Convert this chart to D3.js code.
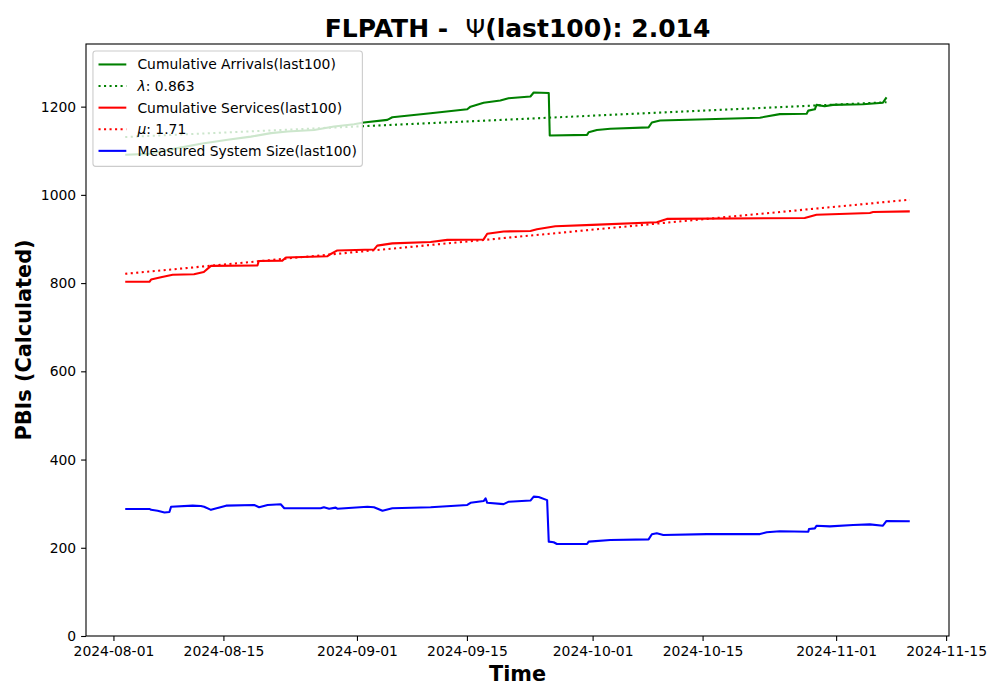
<!DOCTYPE html>
<html>
<head>
<meta charset="utf-8">
<script src="https://cdn.jsdelivr.net/npm/d3@7"></script>
<style>
  body { margin: 0; background: #fff; }
  text { font-family: "DejaVu Sans", sans-serif; }
</style>
</head>
<body>
<svg id="chart"></svg>
<script>
// cumulative arrivals (last 100)
const arrivals = [
    ["2024-08-02T12", 1091], ["2024-08-05T14", 1093], ["2024-08-09T04", 1106], ["2024-08-12T03", 1116],
    ["2024-08-15T13", 1125], ["2024-08-18T12", 1132], ["2024-08-21T01", 1140], ["2024-08-23T04", 1143.5],
    ["2024-08-26T13", 1147], ["2024-08-29T02", 1155], ["2024-08-31T15", 1160], ["2024-09-01T21", 1164],
    ["2024-09-04T21", 1170], ["2024-09-05T12", 1176], ["2024-09-10T09", 1185], ["2024-09-15T01", 1194],
    ["2024-09-15T11", 1200], ["2024-09-17T03", 1209], ["2024-09-19T06", 1214], ["2024-09-20T07", 1219],
    ["2024-09-23T02", 1223], ["2024-09-23T12", 1232], ["2024-09-25T10", 1231], ["2024-09-25T13", 1134.5],
    ["2024-09-30T07", 1136], ["2024-09-30T12", 1142], ["2024-10-01T13", 1147], ["2024-10-03T06", 1150],
    ["2024-10-08T03", 1153], ["2024-10-08T13", 1164], ["2024-10-09T14", 1168.5], ["2024-10-15T13", 1171.5],
    ["2024-10-22T07", 1175], ["2024-10-24T20", 1183], ["2024-10-28T06", 1184], ["2024-10-28T11", 1191],
    ["2024-10-29T07", 1194], ["2024-10-29T12", 1204], ["2024-10-30T13", 1201], ["2024-10-31T14", 1204],
    ["2024-11-04T10", 1205.6], ["2024-11-06T23", 1209], ["2024-11-07T10", 1221]
];

// cumulative services (last 100)
const services = [
    ["2024-08-02T12", 803], ["2024-08-05T14", 803], ["2024-08-05T19", 808], ["2024-08-07T01", 813],
    ["2024-08-08T13", 819], ["2024-08-11T06", 820], ["2024-08-12T12", 825], ["2024-08-13T10", 839],
    ["2024-08-19T08", 840], ["2024-08-19T12", 850], ["2024-08-22T12", 851], ["2024-08-22T23", 858],
    ["2024-08-28T06", 861], ["2024-08-28T16", 866], ["2024-08-29T12", 874], ["2024-09-03T04", 876],
    ["2024-09-03T14", 885], ["2024-09-05T12", 890], ["2024-09-10T09", 893], ["2024-09-12T12", 898],
    ["2024-09-17T03", 899], ["2024-09-17T14", 912], ["2024-09-19T16", 917], ["2024-09-23T02", 918],
    ["2024-09-23T22", 922], ["2024-09-26T06", 929], ["2024-09-30T23", 932], ["2024-10-09T04", 938],
    ["2024-10-10T11", 945.5], ["2024-10-28T00", 947.5], ["2024-10-29T12", 955], ["2024-11-05T07", 959],
    ["2024-11-05T17", 961], ["2024-11-10T09", 962.5]
];

// measured system size (last 100)
const systemSize = [
    ["2024-08-02T12", 288], ["2024-08-05T14", 288], ["2024-08-05T19", 286], ["2024-08-06T15", 284],
    ["2024-08-07T12", 280], ["2024-08-08T03", 281], ["2024-08-08T08", 293], ["2024-08-11T02", 295.5],
    ["2024-08-12T03", 294.8], ["2024-08-12T13", 293], ["2024-08-13T10", 286], ["2024-08-15T08", 295.5],
    ["2024-08-18T22", 297], ["2024-08-19T13", 292], ["2024-08-20T15", 297], ["2024-08-22T07", 298.6],
    ["2024-08-22T18", 289.5], ["2024-08-27T09", 289.5], ["2024-08-27T19", 292], ["2024-08-28T11", 288.5],
    ["2024-08-29T07", 291], ["2024-08-29T12", 288.5], ["2024-09-02T08", 293], ["2024-09-03T04", 292],
    ["2024-09-04T06", 284], ["2024-09-05T12", 289.5], ["2024-09-10T09", 292], ["2024-09-15T01", 297],
    ["2024-09-15T11", 302], ["2024-09-17T03", 306], ["2024-09-17T09", 312], ["2024-09-17T14", 302],
    ["2024-09-19T16", 299], ["2024-09-20T08", 304.5], ["2024-09-23T02", 307], ["2024-09-23T12", 316],
    ["2024-09-24T03", 315], ["2024-09-25T05", 308], ["2024-09-25T10", 214], ["2024-09-26T01", 212.5],
    ["2024-09-26T11", 208.6], ["2024-09-30T07", 208.6], ["2024-09-30T12", 214], ["2024-10-03T06", 217.7],
    ["2024-10-08T03", 219], ["2024-10-08T13", 230.6], ["2024-10-09T04", 233], ["2024-10-10T00", 229],
    ["2024-10-15T13", 231], ["2024-10-22T07", 231], ["2024-10-23T04", 235], ["2024-10-24T20", 237.4],
    ["2024-10-28T11", 236.5], ["2024-10-28T13", 242.6], ["2024-10-29T07", 244], ["2024-10-29T12", 250],
    ["2024-10-31T05", 248.5], ["2024-11-03T04", 251.7], ["2024-11-05T07", 253], ["2024-11-06T23", 250],
    ["2024-11-07T10", 260.8], ["2024-11-10T09", 260]
];

// fitted rate lines (start / end)
const lambdaFit = [["2024-08-02T12", 1131], ["2024-11-07T10", 1210]];
const muFit = [["2024-08-02T12", 821], ["2024-11-10T09", 989]];

const yTicks = [0, 200, 400, 600, 800, 1000, 1200];
const xTicks = ["2024-08-01", "2024-08-15", "2024-09-01", "2024-09-15", "2024-10-01", "2024-10-15", "2024-11-01", "2024-11-15"];

const width = 1000, height = 700;
const margin = { top: 44, right: 51, bottom: 64, left: 86 };

const parseTime = d3.utcParse("%Y-%m-%dT%H");
const parseDay = d3.utcParse("%Y-%m-%d");
const toPoints = arr => arr.map(d => ({ t: parseTime(d[0]), v: d[1] }));

const series = [
    { label: "Cumulative Arrivals(last100)", pts: toPoints(arrivals), color: "green", dotted: false },
    { label: "λ: 0.863", sym: "λ", rest: ": 0.863", pts: toPoints(lambdaFit), color: "green", dotted: true },
    { label: "Cumulative Services(last100)", pts: toPoints(services), color: "red", dotted: false },
    { label: "μ: 1.71", sym: "μ", rest: ": 1.71", pts: toPoints(muFit), color: "red", dotted: true },
    { label: "Measured System Size(last100)", pts: toPoints(systemSize), color: "blue", dotted: false }
];

const svg = d3.select("#chart").attr("width", width).attr("height", height);

// x domain: data extent with 5% padding like matplotlib
const allT = series.flatMap(s => s.pts.map(p => p.t));
const [t0, t1] = d3.extent(allT);
const pad = (t1 - t0) * 0.05;
const x = d3.scaleUtc()
    .domain([new Date(+t0 - pad), new Date(+t1 + pad)])
    .range([margin.left, width - margin.right]);

const y = d3.scaleLinear()
    .domain([0, 1342])
    .range([height - margin.bottom, margin.top]);

const line = d3.line().x(d => x(d.t)).y(d => y(d.v));

// lines
const plot = svg.append("g");
series.forEach(s => {
    plot.append("path")
        .datum(s.pts)
        .attr("fill", "none")
        .attr("stroke", s.color)
        .attr("stroke-width", 2.08)
        .attr("stroke-linejoin", "round")
        .attr("stroke-dasharray", s.dotted ? "2.08,3.43" : null)
        .attr("d", line);
});

// axes
const xAxis = svg.append("g")
    .attr("transform", `translate(0,${height - margin.bottom})`)
    .call(d3.axisBottom(x)
        .tickValues(xTicks.map(parseDay))
        .tickFormat(d3.utcFormat("%Y-%m-%d"))
        .tickSize(4.9)
        .tickPadding(4.9));

const yAxis = svg.append("g")
    .attr("transform", `translate(${margin.left},0)`)
    .call(d3.axisLeft(y)
        .tickValues(yTicks)
        .tickFormat(d3.format("d"))
        .tickSize(4.9)
        .tickPadding(4.9));

[xAxis, yAxis].forEach(a => {
    a.select(".domain").remove();
    a.selectAll(".tick line").attr("stroke", "#000").attr("stroke-width", 1.1);
    a.selectAll(".tick text")
        .attr("fill", "#000")
        .style("font-size", "13.9px")
        .style("font-family", "DejaVu Sans");
});

// frame
svg.append("rect")
    .attr("x", margin.left)
    .attr("y", margin.top)
    .attr("width", width - margin.left - margin.right)
    .attr("height", height - margin.top - margin.bottom)
    .attr("fill", "none")
    .attr("stroke", "#000")
    .attr("stroke-width", 1.1);

// title
const title = svg.append("text")
    .attr("x", (margin.left + width - margin.right) / 2)
    .attr("y", 37)
    .attr("text-anchor", "middle")
    .style("white-space", "pre")
    .style("font-size", "25px")
    .style("font-weight", "bold");
title.append("tspan").text("FLPATH -  ");
title.append("tspan").style("font-weight", "normal").text("Ψ");
title.append("tspan").text("(last100): 2.014");

svg.append("text")
    .attr("x", (margin.left + width - margin.right) / 2)
    .attr("y", 681)
    .attr("text-anchor", "middle")
    .style("font-size", "20.8px")
    .style("font-weight", "bold")
    .text("Time");

svg.append("text")
    .attr("transform", `translate(31,${(margin.top + height - margin.bottom) / 2}) rotate(-90)`)
    .attr("text-anchor", "middle")
    .style("font-size", "20.8px")
    .style("font-weight", "bold")
    .text("PBIs (Calculated)");

// legend
const fs = 13.9;
const legend = svg.append("g");
const box = legend.append("rect")
    .attr("x", margin.left + 6.95)
    .attr("y", margin.top + 6.95)
    .attr("rx", 2.8)
    .attr("fill", "#fff")
    .attr("fill-opacity", 0.8)
    .attr("stroke", "#cccccc")
    .attr("stroke-width", 1.1);

const hx = margin.left + 6.95 + 5.56;
const rowY = i => margin.top + 6.95 + 5.56 + fs * 0.5 + 1 + i * 21.6;
let maxW = 0;
series.forEach((s, i) => {
    legend.append("line")
        .attr("x1", hx).attr("x2", hx + 27.8)
        .attr("y1", rowY(i)).attr("y2", rowY(i))
        .attr("stroke", s.color)
        .attr("stroke-width", 2.08)
        .attr("stroke-dasharray", s.dotted ? "2.08,3.43" : null);
    const t = legend.append("text")
        .attr("x", hx + 27.8 + 11.1)
        .attr("y", rowY(i))
        .attr("dy", "0.36em")
        .style("font-size", fs + "px")
        .attr("fill", "#000");
    if (s.sym) {
        t.append("tspan").style("font-style", "italic").text(s.sym);
        t.append("tspan").text(s.rest);
    } else {
        t.text(s.label);
    }
    maxW = Math.max(maxW, t.node().getComputedTextLength());
});
box.attr("width", 5.56 + 27.8 + 11.1 + maxW + 5.56)
    .attr("height", 5 * 21.6 - 21.6 + fs + 2 * 5.56 + 4);
</script>
</body>
</html>
